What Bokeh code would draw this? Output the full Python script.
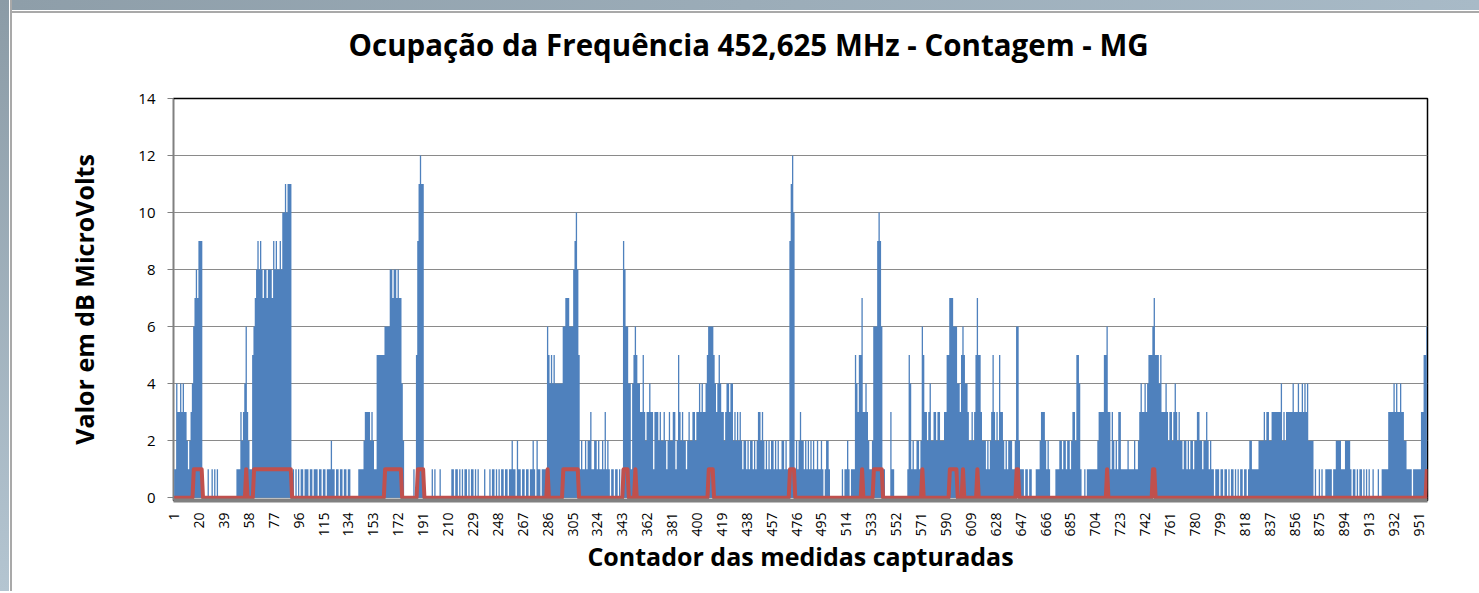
import math
from bokeh.plotting import figure
from bokeh.models import FixedTicker, Range1d, ColumnDataSource, Div, Title
from bokeh.layouts import row, column
from bokeh.embed import file_html
from bokeh.resources import INLINE

titulo = "Ocupação da Frequência 452,625 MHz - Contagem - MG"
rotulo_x = "Contador das medidas capturadas"
rotulo_y = "Valor em dB MicroVolts"

valores_001_200 = [
    1, 1, 4, 3, 3, 4, 3, 4, 3, 3,
    2, 1, 2, 3, 4, 6, 7, 8, 7, 9,
    9, 9, 0, 0, 0, 0, 1, 0, 0, 1,
    0, 1, 0, 1, 0, 0, 0, 0, 0, 0,
    0, 0, 0, 0, 0, 0, 0, 0, 1, 1,
    1, 3, 2, 3, 4, 6, 3, 2, 1, 1,
    5, 6, 7, 8, 9, 8, 9, 8, 7, 8,
    8, 7, 8, 8, 8, 7, 9, 8, 9, 8,
    8, 9, 8, 10, 10, 11, 10, 11, 11, 11,
    0, 1, 0, 1, 0, 1, 0, 1, 1, 0,
    1, 1, 1, 0, 1, 1, 0, 1, 1, 1,
    0, 1, 1, 0, 1, 1, 0, 1, 1, 1,
    2, 1, 1, 0, 1, 1, 0, 1, 1, 0,
    1, 1, 0, 1, 1, 0, 0, 0, 0, 0,
    0, 1, 1, 1, 1, 2, 3, 3, 3, 3,
    2, 3, 2, 1, 1, 5, 5, 5, 5, 5,
    5, 6, 6, 6, 6, 8, 8, 7, 8, 8,
    7, 8, 7, 7, 4, 2, 0, 0, 0, 0,
    0, 0, 0, 1, 0, 5, 9, 11, 12, 11,
    11, 0, 0, 0, 0, 0, 0, 1, 0, 1,
]
valores_201_400 = [
    0, 0, 0, 1, 0, 0, 0, 0, 0, 0,
    0, 0, 1, 1, 0, 1, 1, 0, 1, 0,
    1, 0, 1, 1, 0, 1, 0, 1, 1, 0,
    1, 0, 1, 0, 0, 0, 0, 1, 0, 0,
    0, 1, 0, 1, 1, 0, 1, 0, 1, 0,
    1, 1, 0, 1, 1, 0, 1, 1, 2, 1,
    1, 0, 2, 1, 1, 0, 1, 1, 0, 1,
    1, 0, 1, 1, 2, 1, 0, 2, 1, 1,
    0, 1, 1, 1, 1, 6, 5, 4, 5, 4,
    5, 4, 4, 4, 4, 4, 4, 6, 6, 7,
    7, 7, 6, 6, 6, 8, 9, 10, 8, 5,
    1, 2, 1, 1, 2, 1, 2, 2, 3, 1,
    1, 2, 2, 1, 2, 1, 1, 2, 1, 3,
    1, 2, 1, 0, 1, 1, 0, 1, 1, 0,
    1, 0, 1, 9, 8, 6, 6, 4, 4, 1,
    4, 5, 6, 5, 4, 4, 3, 3, 5, 3,
    2, 3, 3, 4, 3, 3, 1, 3, 3, 3,
    2, 3, 2, 2, 3, 2, 1, 2, 3, 2,
    2, 3, 3, 1, 2, 5, 3, 2, 3, 2,
    2, 1, 2, 3, 2, 2, 3, 3, 2, 3,
]
valores_401_600 = [
    3, 4, 3, 4, 3, 3, 4, 5, 6, 6,
    6, 6, 5, 4, 3, 4, 5, 4, 3, 3,
    2, 3, 4, 4, 3, 4, 4, 2, 3, 2,
    3, 2, 3, 2, 1, 2, 2, 1, 2, 1,
    2, 2, 1, 2, 1, 2, 3, 3, 2, 3,
    2, 1, 2, 1, 2, 1, 2, 2, 1, 2,
    1, 2, 1, 1, 2, 2, 1, 2, 1, 1,
    9, 11, 12, 10, 1, 2, 1, 2, 3, 2,
    2, 1, 2, 1, 2, 1, 2, 1, 2, 1,
    1, 2, 1, 1, 2, 1, 0, 1, 2, 2,
    1, 0, 0, 0, 0, 0, 0, 0, 0, 0,
    1, 0, 1, 1, 2, 1, 0, 1, 1, 1,
    5, 4, 3, 5, 5, 7, 3, 3, 4, 3,
    2, 1, 1, 2, 6, 6, 6, 9, 10, 9,
    6, 1, 1, 0, 0, 0, 0, 3, 1, 1,
    0, 0, 0, 0, 0, 0, 0, 0, 0, 0,
    1, 5, 4, 1, 2, 1, 1, 2, 2, 1,
    2, 6, 5, 3, 3, 2, 3, 4, 2, 2,
    3, 3, 2, 3, 3, 2, 2, 2, 3, 3,
    5, 5, 7, 7, 7, 6, 6, 6, 4, 4,
]
valores_601_800 = [
    3, 5, 6, 5, 4, 4, 3, 2, 2, 3,
    2, 3, 5, 7, 5, 5, 3, 2, 2, 2,
    1, 2, 1, 2, 3, 5, 3, 2, 3, 2,
    5, 3, 3, 2, 1, 2, 1, 2, 2, 2,
    1, 1, 2, 6, 6, 2, 1, 1, 1, 0,
    1, 1, 0, 1, 1, 0, 0, 0, 1, 1,
    1, 2, 3, 3, 3, 2, 1, 2, 1, 0,
    0, 0, 0, 1, 1, 1, 2, 2, 1, 2,
    2, 1, 2, 2, 1, 2, 3, 3, 2, 5,
    5, 4, 1, 0, 0, 1, 0, 1, 1, 1,
    1, 1, 1, 1, 1, 2, 3, 3, 3, 3,
    5, 5, 6, 3, 3, 1, 3, 2, 1, 2,
    1, 3, 3, 1, 1, 1, 1, 1, 2, 1,
    1, 1, 1, 2, 1, 1, 2, 3, 4, 3,
    3, 4, 3, 4, 5, 5, 5, 6, 7, 5,
    5, 5, 4, 5, 3, 3, 3, 4, 3, 2,
    3, 3, 2, 3, 4, 3, 2, 3, 2, 2,
    1, 2, 2, 1, 2, 1, 2, 2, 1, 2,
    2, 3, 3, 2, 2, 1, 2, 2, 3, 2,
    1, 2, 1, 1, 0, 1, 1, 1, 0, 1,
]
valores_801_957 = [
    1, 0, 1, 1, 0, 1, 0, 1, 1, 0,
    1, 0, 1, 0, 1, 1, 0, 1, 1, 0,
    1, 2, 2, 1, 1, 1, 1, 1, 2, 2,
    2, 2, 3, 2, 3, 3, 2, 2, 3, 3,
    3, 3, 3, 3, 3, 4, 2, 3, 2, 3,
    3, 3, 3, 3, 4, 3, 3, 3, 4, 3,
    3, 4, 3, 4, 3, 4, 2, 2, 2, 2,
    0, 1, 0, 0, 1, 0, 1, 0, 0, 1,
    1, 1, 1, 1, 0, 1, 1, 2, 2, 2,
    2, 1, 1, 1, 2, 2, 2, 2, 1, 0,
    1, 1, 0, 1, 0, 1, 1, 0, 1, 0,
    1, 0, 1, 0, 0, 1, 0, 0, 0, 1,
    0, 0, 1, 1, 1, 1, 1, 3, 3, 3,
    3, 4, 3, 4, 3, 3, 4, 3, 3, 2,
    2, 1, 1, 1, 1, 0, 1, 1, 1, 1,
    1, 1, 3, 3, 5, 5, 6,
]

# Trechos em que a frequência aparece ocupada (linha vermelha = 1)
ocupado_inicio = [16, 56, 62, 162, 187, 286, 298, 344, 353, 409, 471,
                  526, 535, 572, 593, 603, 614, 644, 713, 748, 957]
ocupado_fim = [22, 56, 90, 174, 191, 286, 309, 347, 353, 412, 474,
               526, 541, 572, 598, 603, 614, 645, 713, 749, 957]

ticks_x = [1, 20, 39, 58, 77, 96, 115, 134, 153, 172, 191, 210, 229, 248, 267,
           286, 305, 324, 343, 362, 381, 400, 419, 438, 457, 476, 495, 514,
           533, 552, 571, 590, 609, 628, 647, 666, 685, 704, 723, 742, 761,
           780, 799, 818, 837, 856, 875, 894, 913, 932, 951]
ticks_y = [0, 2, 4, 6, 8, 10, 12, 14]

valores = valores_001_200 + valores_201_400 + valores_401_600 + valores_601_800 + valores_801_957
n = len(valores)
medidas = list(range(1, n + 1))
ocupacao = [0] * n
for a, b in zip(ocupado_inicio, ocupado_fim):
    for k in range(a, b + 1):
        ocupacao[k - 1] = 1

src = ColumnDataSource(dict(x=medidas, v=valores, o=ocupacao))

p = figure(width=1467, height=578, output_backend="svg", toolbar_location=None,
           x_range=Range1d(0.5, n + 0.5), y_range=Range1d(-0.1, 14),
           min_border_left=161, min_border_right=52, min_border_top=85,
           min_border_bottom=91)
p.background_fill_color = "white"
p.border_fill_color = "white"
p.outline_line_color = "black"
p.outline_line_width = 1.5

p.title.text = titulo
p.title.align = "left"
p.title.offset = 175
p.title.standoff = 2
p.title.vertical_align = "bottom"
p.title.text_font = "Open Sans"
p.title.text_font_size = "29.5px"
p.title.text_font_style = "bold"
p.title.text_color = "black"
# espaço entre o título e a área do gráfico
p.add_layout(Title(text=" ", text_font_size="1px", standoff=30), "above")

p.varea_step(x="x", y1=0, y2="v", step_mode="center", source=src,
             fill_color="#4F81BD")
p.line(x="x", y="o", source=src, line_color="#C0504D", line_width=4,
       line_join="round")

p.xgrid.visible = False
p.ygrid.ticker = FixedTicker(ticks=ticks_y)
p.ygrid.grid_line_color = "#8a8a8a"
p.ygrid.grid_line_width = 1

xa = p.xaxis[0]
xa.ticker = FixedTicker(ticks=ticks_x)
xa.major_label_orientation = math.pi / 2
xa.major_tick_line_color = None
xa.minor_tick_line_color = None
xa.axis_line_color = "#808080"
xa.axis_line_width = 4
xa.major_label_text_font = "Open Sans"
xa.major_label_text_font_size = "14px"
xa.major_label_text_color = "black"
xa.major_label_standoff = 6
xa.axis_label = rotulo_x
xa.axis_label_text_font = "Open Sans"
xa.axis_label_text_font_size = "25px"
xa.axis_label_text_font_style = "bold"
xa.axis_label_text_color = "black"
xa.axis_label_standoff = -1

ya = p.yaxis[0]
ya.ticker = FixedTicker(ticks=ticks_y)
ya.minor_tick_line_color = None
ya.axis_line_color = "#808080"
ya.major_tick_line_color = "#808080"
ya.major_tick_out = 6
ya.major_tick_in = 0
ya.major_label_text_font = "Open Sans"
ya.major_label_text_font_size = "15px"
ya.major_label_text_color = "black"
ya.major_label_standoff = 12
ya.axis_label = rotulo_y
ya.axis_label_text_font = "Open Sans"
ya.axis_label_text_font_size = "25px"
ya.axis_label_text_font_style = "bold"
ya.axis_label_text_color = "black"
ya.axis_label_standoff = 34

faixa_esq = Div(width=12, height=591, margin=0, styles={
    "background": "linear-gradient(to right, rgba(0,0,0,0) 9px, #ffffff 9px, #ffffff 10px, #a9a9a9 10px, #a9a9a9 12px), linear-gradient(to bottom, #8b9ba6, #b4c5d1)"})
faixa_topo = Div(width=1467, height=13, margin=0, styles={
    "background": "linear-gradient(to bottom, rgba(0,0,0,0) 10px, #ffffff 10px, #ffffff 11px, #a9a9a9 11px, #a9a9a9 13px), linear-gradient(to right, #8e9ea9, #a8bac7)"})

layout = row(faixa_esq, column(faixa_topo, p, spacing=0), spacing=0)

open("out.html", "w").write(file_html(layout, INLINE))
